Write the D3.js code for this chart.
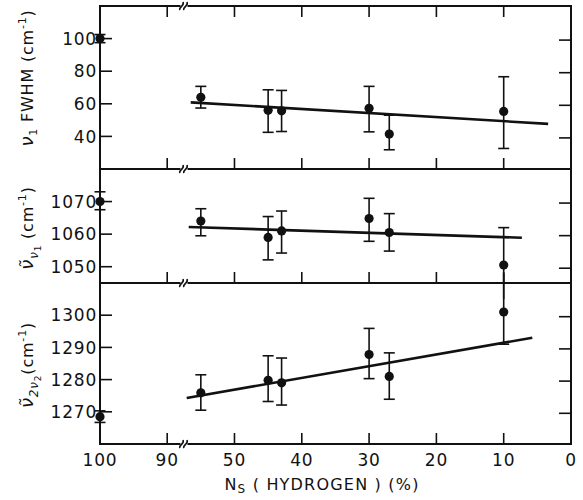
<!DOCTYPE html>
<html>
<head>
<meta charset="utf-8">
<script src="https://cdn.jsdelivr.net/npm/d3@7"></script>
<style>
  body { margin: 0; background: #fff; }
  text { font-family: "DejaVu Sans", sans-serif; fill: #111; }
</style>
</head>
<body>
<div class="graph-pane"></div>
<script>
// hydrogen fraction of each sample (%), same for all three panels
const hydrogen = [100, 55, 45, 43, 30, 27, 10];
const xTicks = [100, 90, 50, 40, 30, 20, 10, 0];

// panel 1: nu1 FWHM (cm-1)
const fwhm = [100, 64, 56, 55.7, 57.2, 41.4, 55.3];
const fwhmLo = [97.5, 57.4, 42.5, 43, 42.8, 31.8, 32.6];
const fwhmHi = [102.5, 70.7, 68.6, 68.2, 70.7, 53, 76.6];
const fwhmFitX = [56.5, 3.4];
const fwhmFitY = [60.9, 47.7];
const fwhmTicks = [40, 60, 80, 100];

// panel 2: nu1 frequency (cm-1)
const nu1 = [1070, 1064, 1059, 1061, 1064.8, 1060.5, 1050.5];
const nu1Lo = [1067.5, 1059.5, 1052.1, 1054.2, 1057.8, 1054.8, 1040];
const nu1Hi = [1073, 1067.8, 1065.4, 1067.1, 1071, 1066.3, 1062];
const nu1FitX = [56.8, 7.3];
const nu1FitY = [1062.2, 1058.9];
const nu1Ticks = [1050, 1060, 1070];

// panel 3: 2nu2 frequency (cm-1)
const nu2 = [1268.5, 1275.9, 1279.8, 1279, 1287.8, 1281, 1301];
const nu2Lo = [1266.7, 1270.5, 1273.2, 1272.1, 1280.3, 1273.9, 1291];
const nu2Hi = [1270.3, 1281.5, 1287.4, 1286.7, 1295.9, 1288.3, 1313];
const nu2FitX = [57.1, 5.75];
const nu2FitY = [1274.3, 1293];
const nu2Ticks = [1270, 1280, 1290, 1300];

const W = 583, H = 500;
const left = 100, right = 571;
const breakX = 184;

const svg = d3.select('.graph-pane')
  .append('svg')
  .attr('width', W)
  .attr('height', H);

// broken axis: 100..87.5 on the left of the break, 57.5..0 on the right
const xScale = d3.scaleLinear()
  .domain([100, 87.5, 57.5, 0])
  .range([left, breakX, breakX, right]);

const panels = [
  {top: 6, bottom: 169, domain: [20, 120], ticks: fwhmTicks, v: fwhm, lo: fwhmLo, hi: fwhmHi,
   fitX: fwhmFitX, fitY: fwhmFitY, topTicks: true, labelY: 78},
  {top: 169, bottom: 283, domain: [1045, 1080], ticks: nu1Ticks, v: nu1, lo: nu1Lo, hi: nu1Hi,
   fitX: nu1FitX, fitY: nu1FitY, topTicks: false, labelY: 228},
  {top: 283, bottom: 444, domain: [1260, 1310], ticks: nu2Ticks, v: nu2, lo: nu2Lo, hi: nu2Hi,
   fitX: nu2FitX, fitY: nu2FitY, topTicks: false, labelY: 365}
];

const inner = xTicks.filter(t => t !== 100 && t !== 0);

panels.forEach((p, pi) => {
  const y = d3.scaleLinear().domain(p.domain).range([p.bottom, p.top]);
  const g = svg.append('g');

  // frame
  g.append('rect')
    .attr('x', left).attr('y', p.top)
    .attr('width', right - left).attr('height', p.bottom - p.top)
    .attr('fill', 'none').attr('stroke', '#111').attr('stroke-width', 2);

  // y ticks, inward on both sides
  p.ticks.forEach(t => {
    g.append('line').attr('x1', left).attr('x2', left + 12)
      .attr('y1', y(t)).attr('y2', y(t)).attr('stroke', '#111').attr('stroke-width', 1.6);
    g.append('line').attr('x1', right).attr('x2', right - 12)
      .attr('y1', y(t) + 1.5).attr('y2', y(t) + 1.5).attr('stroke', '#111').attr('stroke-width', 1.6);
    g.append('text')
      .attr('x', left - 3).attr('y', y(t))
      .attr('dy', '0.36em')
      .attr('text-anchor', 'end')
      .attr('font-size', 17)
      .attr('letter-spacing', 0.8)
      .text(t);
  });

  // x ticks pointing up from the bottom, and down from the top of panel 1
  inner.forEach(t => {
    g.append('line').attr('x1', xScale(t)).attr('x2', xScale(t))
      .attr('y1', p.bottom).attr('y2', p.bottom - 11).attr('stroke', '#111').attr('stroke-width', 1.6);
    if (p.topTicks) {
      g.append('line').attr('x1', xScale(t)).attr('x2', xScale(t))
        .attr('y1', p.top).attr('y2', p.top + 11).attr('stroke', '#111').attr('stroke-width', 1.6);
    }
  });

  // fit line
  g.append('line')
    .attr('x1', xScale(p.fitX[0])).attr('y1', y(p.fitY[0]))
    .attr('x2', xScale(p.fitX[1])).attr('y2', y(p.fitY[1]))
    .attr('stroke', '#111').attr('stroke-width', 2.6);

  // error bars and points
  hydrogen.forEach((h, i) => {
    const cx = xScale(h);
    g.append('line').attr('x1', cx).attr('x2', cx)
      .attr('y1', y(p.lo[i])).attr('y2', y(p.hi[i]))
      .attr('stroke', '#111').attr('stroke-width', 1.6);
    [p.lo[i], p.hi[i]].forEach(e => {
      if (e < p.domain[0] || e > p.domain[1]) return;
      g.append('line').attr('x1', cx - 5.5).attr('x2', cx + 5.5)
        .attr('y1', y(e)).attr('y2', y(e))
        .attr('stroke', '#111').attr('stroke-width', 1.6);
    });
    g.append('circle').attr('cx', cx).attr('cy', y(p.v[i])).attr('r', 4.6).attr('fill', '#111');
  });

  // y title
  const lab = svg.append('text')
    .attr('transform', 'translate(33,' + p.labelY + ') rotate(-90)')
    .attr('text-anchor', 'middle')
    .attr('font-size', 16)
    .attr('letter-spacing', 0.8);
  if (pi === 0) {
    lab.append('tspan').attr('font-style', 'italic').attr('font-size', 18).text('ν');
    lab.append('tspan').attr('font-size', 11).attr('dy', 4).text('1');
    lab.append('tspan').attr('dy', -4).text(' FWHM (cm');
    lab.append('tspan').attr('font-size', 11).attr('dy', -7).text('-1');
    lab.append('tspan').attr('dy', 7).text(')');
  } else {
    lab.append('tspan').attr('font-style', 'italic').attr('font-size', 18).text('ν\u0303');
    lab.append('tspan').attr('font-size', 12).attr('dy', 5).attr('font-style', 'italic')
      .text(pi === 1 ? 'ν' : '2ν');
    lab.append('tspan').attr('font-size', 9).attr('dy', 3).text(pi === 1 ? '1' : '2');
    lab.append('tspan').attr('dy', -8).text(pi === 1 ? ' (cm' : '(cm');
    lab.append('tspan').attr('font-size', 11).attr('dy', -7).text('-1');
    lab.append('tspan').attr('dy', 7).text(')');
  }
});

// break marks on every horizontal axis line
[6, 169, 283, 444].forEach(by => {
  const b = svg.append('g').attr('transform', 'translate(' + breakX + ',' + by + ')');
  b.append('rect').attr('x', -3.5).attr('y', -3).attr('width', 7).attr('height', 6).attr('fill', '#fff');
  [-2, 2].forEach(dx => {
    b.append('path')
      .attr('d', 'M' + (dx - 2) + ',4 C' + (dx - 4) + ',1 ' + (dx + 3) + ',0 ' + (dx + 1) + ',-4')
      .attr('fill', 'none').attr('stroke', '#111').attr('stroke-width', 1.6);
  });
});

// x tick labels
xTicks.forEach(t => {
  svg.append('text')
    .attr('x', xScale(t)).attr('y', 466)
    .attr('text-anchor', 'middle')
    .attr('font-size', 17)
    .attr('letter-spacing', 0.8)
    .text(t);
});

// x title
const xt = svg.append('text')
  .attr('x', 322).attr('y', 490)
  .attr('text-anchor', 'middle')
  .attr('font-size', 16)
  .attr('letter-spacing', 1.2);
xt.append('tspan').text('N');
xt.append('tspan').attr('font-size', 12).attr('dy', 3).text('S');
xt.append('tspan').attr('dy', -3).text(' ( HYDROGEN ) (%)');
</script>
</body>
</html>
